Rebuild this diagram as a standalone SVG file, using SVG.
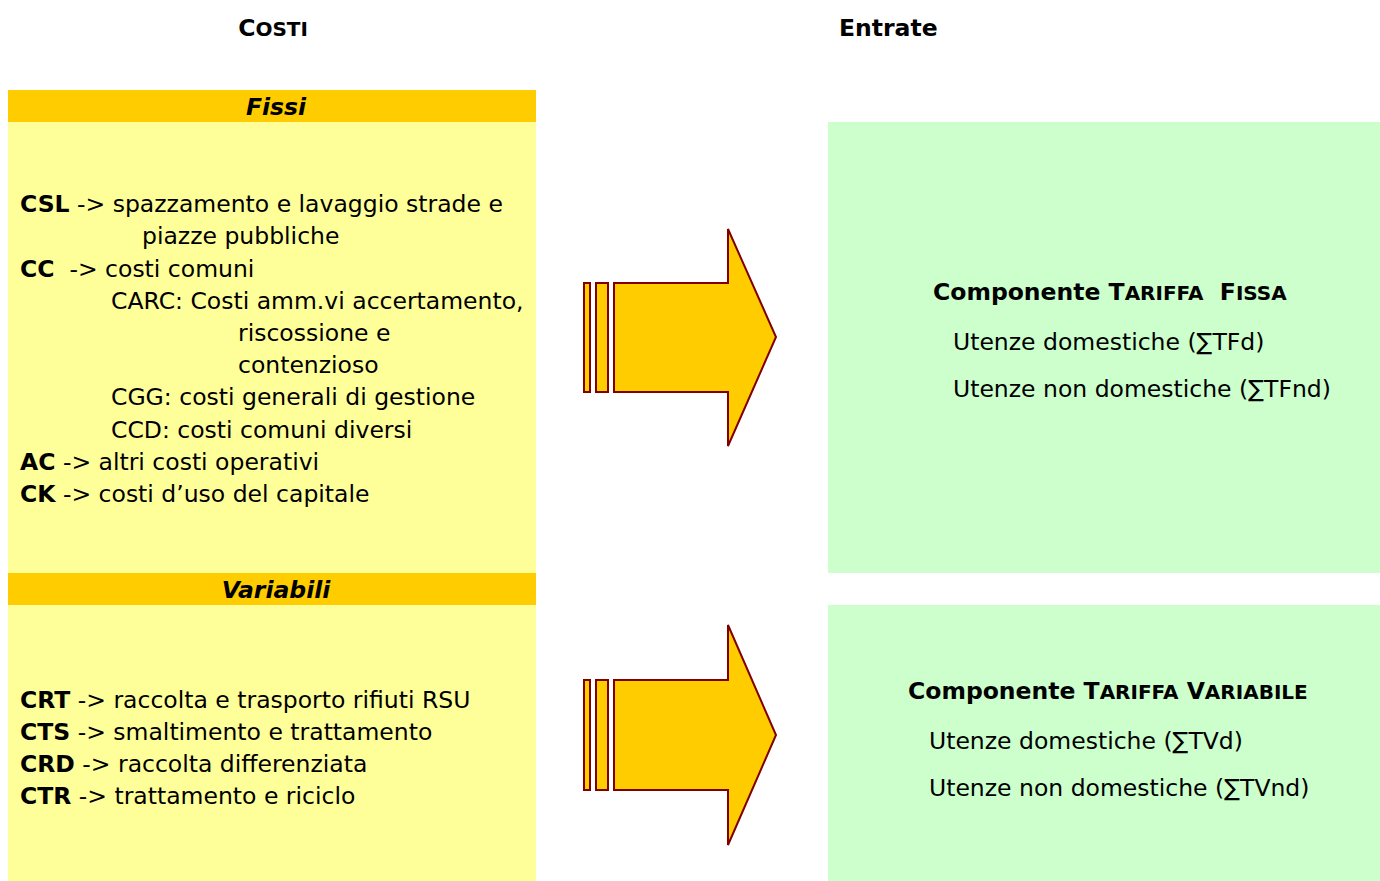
<svg xmlns="http://www.w3.org/2000/svg" width="1380" height="881" viewBox="0 0 1380 881">
<style>
text{font-family:"DejaVu Sans",sans-serif;font-size:23.5px;fill:#000}
.b{font-weight:bold}
.hd{font-weight:bold;font-style:italic;text-anchor:middle}
.sc{font-size:20px}
.band{fill:#FFCC00}
.yel{fill:#FFFF99}
.grn{fill:#CCFFCC}
.arr{fill:#FFCC00;stroke:#800000;stroke-width:2}
</style>
<rect width="1380" height="881" fill="#fff"/>
<g id="titles">
<text x="273" y="36" class="b" text-anchor="middle">C<tspan class="sc">OSTI</tspan></text>
<text x="839" y="36" class="b">Entrate</text>
</g>
<g id="fissi">
<rect class="yel" x="8" y="122" width="528" height="451"/>
<rect class="band" x="8" y="90" width="528" height="32"/>
<text x="276" y="115" class="hd">Fissi</text>
<text x="20" y="212"><tspan class="b">CSL</tspan> -&gt; spazzamento e lavaggio strade e</text>
<text x="142" y="244">piazze pubbliche</text>
<text x="20" y="277"><tspan class="b">CC</tspan>&#160; -&gt; costi comuni</text>
<text x="111" y="309">CARC: Costi amm.vi accertamento,</text>
<text x="238" y="341">riscossione e</text>
<text x="238" y="373">contenzioso</text>
<text x="111" y="405">CGG: costi generali di gestione</text>
<text x="111" y="438">CCD: costi comuni diversi</text>
<text x="20" y="470"><tspan class="b">AC</tspan> -&gt; altri costi operativi</text>
<text x="20" y="502"><tspan class="b">CK</tspan> -&gt; costi d’uso del capitale</text>
</g>
<g id="variabili">
<rect class="yel" x="8" y="605" width="528" height="276"/>
<rect class="band" x="8" y="573" width="528" height="32"/>
<text x="276" y="598" class="hd">Variabili</text>
<text x="20" y="708"><tspan class="b">CRT</tspan> -&gt; raccolta e trasporto rifiuti RSU</text>
<text x="20" y="740"><tspan class="b">CTS</tspan> -&gt; smaltimento e trattamento</text>
<text x="20" y="772"><tspan class="b">CRD</tspan> -&gt; raccolta differenziata</text>
<text x="20" y="804"><tspan class="b">CTR</tspan> -&gt; trattamento e riciclo</text>
</g>
<g id="tariffa-fissa">
<rect class="grn" x="828" y="122" width="552" height="451"/>
<text x="933" y="300" class="b">Componente T<tspan class="sc">ARIFFA</tspan>&#160; F<tspan class="sc">ISSA</tspan></text>
<text x="953" y="350">Utenze domestiche (∑TFd)</text>
<text x="953" y="397">Utenze non domestiche (∑TFnd)</text>
</g>
<g id="tariffa-variabile">
<rect class="grn" x="828" y="605" width="552" height="276"/>
<text x="908" y="699" class="b">Componente T<tspan class="sc">ARIFFA</tspan> V<tspan class="sc">ARIABILE</tspan></text>
<text x="929" y="749">Utenze domestiche (∑TVd)</text>
<text x="929" y="796">Utenze non domestiche (∑TVnd)</text>
</g>
<g id="connectors">
<g id="arrow1">
<rect class="arr" x="584" y="283" width="6" height="109"/>
<rect class="arr" x="596" y="283" width="12" height="109"/>
<path class="arr" d="M614 283 H728 V229 L776 337 L728 446 V392 H614 Z"/>
</g>
<g id="arrow2">
<rect class="arr" x="584" y="680" width="6" height="110"/>
<rect class="arr" x="596" y="680" width="12" height="110"/>
<path class="arr" d="M614 680 H728 V625 L776 735 L728 845 V790 H614 Z"/>
</g>
</g>
</svg>
